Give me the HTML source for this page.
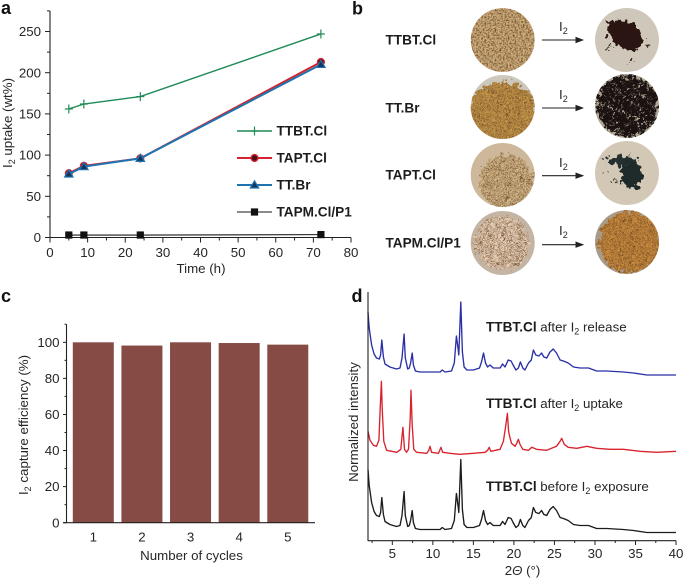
<!DOCTYPE html>
<html lang="en">
<head>
<meta charset="utf-8">
<title>Iodine uptake figure</title>
<style>
html,body{margin:0;padding:0;background:#fff;width:685px;height:579px;overflow:hidden}
svg{display:block;filter:blur(.3px)}
text{font-family:"Liberation Sans",Arial,sans-serif;fill:#262626;font-size:13.3px}
.b{font-weight:700;fill:#1c1c1c;font-size:13.6px}
.panel{font-size:18px;font-weight:700;fill:#111}
</style>
</head>
<body>
<svg id="fig" xmlns="http://www.w3.org/2000/svg" width="685" height="579" viewBox="0 0 685 579">
<defs>
<filter id="grain" x="0" y="0" width="100%" height="100%" color-interpolation-filters="sRGB">
<feTurbulence type="fractalNoise" baseFrequency=".6" numOctaves="2" seed="4" result="n"/>
<feColorMatrix in="n" type="matrix" values="0 0 0 0 .42 0 0 0 0 .28 0 0 0 0 .14 2.6 0 0 0 -1.05" result="d"/>
<feComposite in="d" in2="SourceAlpha" operator="in" result="c"/>
<feMerge><feMergeNode in="SourceGraphic"/><feMergeNode in="c"/></feMerge>
</filter>
<filter id="rough" x="-20%" y="-20%" width="140%" height="140%" color-interpolation-filters="sRGB">
<feTurbulence type="fractalNoise" baseFrequency=".22" numOctaves="2" seed="9" result="n"/>
<feDisplacementMap in="SourceGraphic" in2="n" scale="13" xChannelSelector="R" yChannelSelector="G"/>
</filter>
<filter id="lightspeck" x="0" y="0" width="100%" height="100%" color-interpolation-filters="sRGB">
<feTurbulence type="fractalNoise" baseFrequency=".3" numOctaves="2" seed="7" result="n"/>
<feColorMatrix in="n" type="matrix" values="0 0 0 0 .72 0 0 0 0 .68 0 0 0 0 .6 7 0 0 0 -4.1" result="d"/>
<feComposite in="d" in2="SourceAlpha" operator="in" result="c"/>
<feMerge><feMergeNode in="SourceGraphic"/><feMergeNode in="c"/></feMerge>
</filter>
<clipPath id="c1l"><circle cx="502.7" cy="40" r="32"/></clipPath>
<clipPath id="c1r"><circle cx="627" cy="40" r="32"/></clipPath>
<clipPath id="c2l"><circle cx="502.7" cy="107" r="32"/></clipPath>
<clipPath id="c2r"><circle cx="627" cy="106" r="32"/></clipPath>
<clipPath id="c3l"><circle cx="502.7" cy="175" r="32"/></clipPath>
<clipPath id="c3r"><circle cx="627" cy="173" r="32"/></clipPath>
<clipPath id="c4l"><circle cx="502.7" cy="243" r="32"/></clipPath>
<clipPath id="c4r"><circle cx="627" cy="242" r="32"/></clipPath>
<marker id="ah" markerWidth="8" markerHeight="6" refX="7" refY="3" orient="auto"><path d="M0 0L8 3L0 6z" fill="#222"/></marker>
</defs>

<text class="panel" x="1" y="14">a</text>
<text class="panel" x="352" y="14.5">b</text>
<text class="panel" x="1" y="302">c</text>
<text class="panel" x="351.5" y="302">d</text>

<!-- panel a -->
<g id="chartA"></g>
<text transform="translate(12,123) rotate(-90)" text-anchor="middle">I<tspan font-size="9" dy="3">2</tspan><tspan dy="-3"> uptake (wt%)</tspan></text>
<text x="201" y="273" text-anchor="middle">Time (h)</text>

<!-- panel b -->
<g>
<text class="b" x="385.5" y="44.5">TTBT.Cl</text>
<text class="b" x="385.5" y="112.5">TT.Br</text>
<text class="b" x="385.5" y="179.5">TAPT.Cl</text>
<text class="b" x="385.5" y="247.5">TAPM.Cl/P1</text>

<g clip-path="url(#c1l)"><g filter="url(#grain)"><circle cx="502.7" cy="40" r="32" fill="#cdae7e"/></g></g>
<g clip-path="url(#c1r)"><rect x="590" y="5" width="76" height="70" fill="#cfc7b9"/><g filter="url(#rough)"><ellipse cx="625" cy="35" rx="20" ry="13" transform="rotate(35 625 35)" fill="#2a1512"/><circle cx="609" cy="47" r="2" fill="#3a2a22"/><circle cx="648" cy="45" r="2" fill="#3a2a22"/><circle cx="610" cy="24" r="2.5" fill="#2a1512"/><circle cx="631" cy="60" r="2" fill="#3a2a22"/></g></g>

<g clip-path="url(#c2l)"><rect x="465" y="70" width="76" height="70" fill="#cdc8be"/><g filter="url(#rough)"><g filter="url(#grain)"><ellipse cx="503" cy="112" rx="34" ry="30" fill="#c4964a"/></g></g></g>
<g clip-path="url(#c2r)"><rect x="590" y="70" width="76" height="70" fill="#b0a696"/><g filter="url(#rough)"><g filter="url(#lightspeck)"><circle cx="627" cy="106" r="31" fill="#1a1210"/></g></g></g>

<g clip-path="url(#c3l)"><rect x="465" y="140" width="76" height="70" fill="#cdb89b"/><g filter="url(#rough)"><g filter="url(#grain)"><ellipse cx="506" cy="182" rx="27" ry="28" fill="#d2b78a"/></g></g></g>
<g clip-path="url(#c3r)"><rect x="590" y="140" width="76" height="70" fill="#d3c8b5"/><g filter="url(#rough)"><ellipse cx="622" cy="161" rx="15" ry="5" fill="#23302f"/><ellipse cx="632" cy="175" rx="11" ry="14" fill="#1f2b2b"/><circle cx="607" cy="172" r="2" fill="#4a4a42"/><circle cx="615" cy="181" r="1.6" fill="#4a4a42"/><circle cx="602" cy="160" r="1.5" fill="#4a4a42"/></g></g>

<g clip-path="url(#c4l)"><rect x="465" y="208" width="76" height="70" fill="#c4b4a3"/><g filter="url(#rough)"><g filter="url(#grain)"><ellipse cx="502" cy="243" rx="27" ry="27" fill="#e6d0ba"/></g></g></g>
<g clip-path="url(#c4r)"><rect x="590" y="208" width="76" height="70" fill="#a99b8a"/><g filter="url(#rough)"><g filter="url(#grain)"><ellipse cx="630" cy="242" rx="31" ry="31" fill="#c98a3e"/></g></g></g>

<g fill="none" stroke="#222" stroke-width="1.1">
<line x1="542" y1="40" x2="583" y2="40" marker-end="url(#ah)"/>
<line x1="542" y1="108" x2="583" y2="108" marker-end="url(#ah)"/>
<line x1="542" y1="175.7" x2="583" y2="175.7" marker-end="url(#ah)"/>
<line x1="542" y1="244.7" x2="583" y2="244.7" marker-end="url(#ah)"/>
</g>
<text x="559" y="31">I<tspan font-size="9" dy="3">2</tspan></text>
<text x="559" y="99">I<tspan font-size="9" dy="3">2</tspan></text>
<text x="559" y="167">I<tspan font-size="9" dy="3">2</tspan></text>
<text x="559" y="235">I<tspan font-size="9" dy="3">2</tspan></text>
</g>

<!-- panel c -->
<g id="chartC"></g>
<text transform="translate(28,425) rotate(-90)" text-anchor="middle">I<tspan font-size="9" dy="3">2</tspan><tspan dy="-3"> capture efficiency (%)</tspan></text>
<text x="191.5" y="560" text-anchor="middle">Number of cycles</text>

<!-- panel d -->
<g id="chartD"></g>
<text transform="translate(358,422) rotate(-90)" text-anchor="middle">Normalized intensity</text>
<text x="522.5" y="575" text-anchor="middle">2<tspan font-style="italic">Θ</tspan> (°)</text>
<text x="486" y="331.5"><tspan class="b">TTBT.Cl</tspan> after I<tspan font-size="9" dy="3">2</tspan><tspan dy="-3"> release</tspan></text>
<text x="486" y="408"><tspan class="b">TTBT.Cl</tspan> after I<tspan font-size="9" dy="3">2</tspan><tspan dy="-3"> uptake</tspan></text>
<text x="486" y="491"><tspan class="b">TTBT.Cl</tspan> before I<tspan font-size="9" dy="3">2</tspan><tspan dy="-3"> exposure</tspan></text>
</svg>

<script>
// Panel a data
const uptakeHours = [5, 9, 24, 72];
const uptakeTTBT = [156, 162, 171, 247];
const uptakeTAPT = [78, 87, 96, 213];
const uptakeTTBr = [77, 86, 96, 210];
const uptakeTAPM = [3, 3, 3, 3.5];
const uptakeXTicks = [0, 10, 20, 30, 40, 50, 60, 70, 80];
const uptakeYTicks = [0, 50, 100, 150, 200, 250];

// Panel c data
const cycleLabels = ['1', '2', '3', '4', '5'];
const cycleEfficiency = [100, 98.2, 100, 99.6, 98.7];
const efficiencyTicks = [0, 20, 40, 60, 80, 100];

// Panel d data
const releaseAngles = [2,2.15,2.45,2.75,3.05,3.4,3.55,3.7,3.9,4.1,4.7,5.5,5.95,6.2,6.45,6.6,6.9,7.1,7.25,7.45,7.6,7.85,8.4,9.65,10.9,11.15,11.5,12.3,12.65,12.9,13.1,13.2,13.45,13.65,13.85,14.2,15,15.75,16,16.25,16.5,16.75,17.05,17.45,18.3,18.6,18.9,19.3,19.65,19.9,20.25,20.55,20.8,21.1,21.35,21.8,22.15,22.4,22.7,23.1,23.4,23.7,24.05,24.45,24.85,25.25,25.7,26.1,26.7,27.35,28.15,29.2,30.2,31.45,33.5,34.75,36.4,38,40];
const releaseIntensity = [66,50,33,24,20,19,23,38,21,14,11,9,10,20,44,20,9,10,15,25,13,7,6,6,6,8,6,7,15,42,30,23,76,26,11,8,8,10,16,25,15,11,13,10,10,14,11,18,17,13,8,10,16,10,8,15,18,28,23,22,25,21,20,26,29,25,18,17,15,11,10,10,7,7,6,5,3,3,3];
const beforeIntensity = [66,50,33,24,20,19,23,38,21,14,11,9,10,20,44,20,9,10,15,25,13,7,6,6,6,8,6,7,15,42,30,23,76,26,11,8,8,10,16,25,15,11,13,10,10,14,11,18,17,13,8,10,16,10,8,15,18,28,23,22,25,21,20,26,29,25,18,17,15,11,10,10,7,7,6,5,3,3,3];
const uptakeAngles = [2,2.25,2.65,3.05,3.35,3.5,3.65,3.75,3.95,4.3,5.55,6.05,6.3,6.5,6.75,7,7.2,7.3,7.45,7.65,8,9.25,9.5,9.65,9.85,10.7,11,11.2,12.1,13.35,15,16.45,16.75,16.95,17.15,18.3,18.7,19,19.2,19.35,19.5,19.7,20.15,20.35,20.55,20.75,21.1,21.8,22.2,22.8,24.05,25.25,25.7,25.9,26.2,26.7,27.75,29,30.2,31.85,33.5,35.55,37.6,40];
const uptakeIntensity = [27,18,13,12,18,50,77,50,17,8,6,9,31,9,6,9,40,68,33,9,6,5,8,12,6,5,11,6,5,4,5,6,8,11,7,9,17,33,45,27,21,15,12,15,19,14,9,8,11,9,8,12,17,20,14,11,10,12,10,9,9,7,6,7];
const xrdTicks = [5, 10, 15, 20, 25, 30, 35, 40];

const NS = 'http://www.w3.org/2000/svg';
function mk(parent, tag, attrs, txt) {
  const el = document.createElementNS(NS, tag);
  for (const k in attrs) el.setAttribute(k, attrs[k]);
  if (txt !== undefined) el.textContent = txt;
  parent.appendChild(el);
  return el;
}
function line(parent, x1, y1, x2, y2, col, w) {
  return mk(parent, 'line', { x1: x1, y1: y1, x2: x2, y2: y2, stroke: col, 'stroke-width': w });
}

/* ---------- panel a ---------- */
const gA = document.getElementById('chartA');
const ax = v => 50 + v * (351 - 50) / 80;
const ay = v => 237.5 - v * (237.5 - 31.5) / 250;
const axA = mk(gA, 'g', {});


line(axA, ax(0), ay(0), ax(80), ay(0), '#222', 1.1);
line(axA, ax(0), ay(0), ax(0), ay(275), '#222', 1.1);
for (let i = 0; i < uptakeXTicks.length; i++) {
  const t = uptakeXTicks[i];
  line(axA, ax(t), ay(0), ax(t), ay(0) + 5, '#222', 1);
  if (i < uptakeXTicks.length - 1) {
    const m = (t + uptakeXTicks[i + 1]) / 2;
    line(axA, ax(m), ay(0), ax(m), ay(0) + 3, '#222', 1);
  }
  const lb = mk(axA, 'text', { x: ax(t), y: 257, 'text-anchor': 'middle' }, t);
  
  
}
for (let i = 0; i < uptakeYTicks.length; i++) {
  const t = uptakeYTicks[i];
  line(axA, ax(0) - 5, ay(t), ax(0), ay(t), '#222', 1);
  line(axA, ax(0) - 3, ay(t + 25), ax(0), ay(t + 25), '#222', 1);
  const lb = mk(axA, 'text', { x: 41, y: ay(t) + 4.6, 'text-anchor': 'end' }, t);
  
  
}
function marker(parent, kind, cx, cy, col) {
  if (kind === 'plus') {
    line(parent, cx - 4, cy, cx + 4, cy, col, 1.2);
    line(parent, cx, cy - 4.5, cx, cy + 4.5, col, 1.2);
  } else if (kind === 'circle') {
    mk(parent, 'circle', { cx: cx, cy: cy, r: 3.4, fill: '#4a0f16', stroke: col, 'stroke-width': 1.4 });
  } else if (kind === 'tri') {
    mk(parent, 'path', { d: `M${cx} ${cy - 4.2}L${cx + 4.2} ${cy + 3}L${cx - 4.2} ${cy + 3}Z`, fill: '#12365e', stroke: col, 'stroke-width': 1.2 });
  } else {
    mk(parent, 'rect', { x: cx - 3.6, y: cy - 3.6, width: 7.2, height: 7.2, fill: '#111' });
  }
}
function drawUptake(name, vals, col, w, kind, legendY, label) {
  const g = mk(gA, 'g', {});
  
  
  mk(g, 'polyline', {
    points: uptakeHours.map((h, i) => ax(h) + ',' + ay(vals[i])).join(' '),
    fill: 'none', stroke: col, 'stroke-width': w
  });
  uptakeHours.forEach((h, i) => marker(g, kind, ax(h), ay(vals[i]), col));
  const lg = mk(gA, 'g', {});
  
  
  line(lg, 237, legendY, 272, legendY, col, w);
  marker(lg, kind, 254.5, legendY, col);
  mk(lg, 'text', { x: 276.5, y: legendY + 4.6, class: 'b' }, label);
}
drawUptake('series-tapm', uptakeTAPM, '#1a1a1a', 1.1, 'square', 212, 'TAPM.Cl/P1');
drawUptake('series-ttbt', uptakeTTBT, '#1f8a57', 1.4, 'plus', 131, 'TTBT.Cl');
drawUptake('series-tapt', uptakeTAPT, '#d5232f', 2, 'circle', 158, 'TAPT.Cl');
drawUptake('series-ttbr', uptakeTTBr, '#1f74b0', 2, 'tri', 185, 'TT.Br');

/* ---------- panel c ---------- */
const gC = document.getElementById('chartC');
const cy = v => 522.7 - v * (522.7 - 342.3) / 100;
const cx = i => 93.3 + i * 48.62;
cycleEfficiency.forEach((v, i) => {
  const b = mk(gC, 'rect', { x: cx(i) - 20.5, y: cy(v), width: 41, height: cy(0) - cy(v), fill: '#864b45' });
  
  
  const lb = mk(gC, 'text', { x: cx(i), y: 541.5, 'text-anchor': 'middle' }, cycleLabels[i]);
  
  
});
const axC = mk(gC, 'g', {});


line(axC, 63, cy(0), 315, cy(0), '#222', 1.1);
line(axC, 66.5, cy(0), 66.5, cy(110), '#222', 1.1);
efficiencyTicks.forEach(t => {
  line(axC, 63, cy(t), 66.5, cy(t), '#222', 1);
  line(axC, 64.5, cy(t + 10), 66.5, cy(t + 10), '#222', 1);
  const lb = mk(axC, 'text', { x: 59.5, y: cy(t) + 4.6, 'text-anchor': 'end' }, t);
  
  
});

/* ---------- panel d ---------- */
const gD = document.getElementById('chartD');
const dx = a => 368 + (a - 2) * 8.106;
function drawXrd(name, angles, vals, base, col) {
  const p = mk(gD, 'polyline', {
    points: angles.map((a, i) => dx(a).toFixed(1) + ',' + (base - vals[i]).toFixed(1)).join(' '),
    fill: 'none', stroke: col, 'stroke-width': 1.35, 'stroke-linejoin': 'round'
  });
  
  
}
drawXrd('xrd-series-release', releaseAngles, releaseIntensity, 378, '#2a2fa6');
drawXrd('xrd-series-uptake', uptakeAngles, uptakeIntensity, 458.3, '#d8242f');
drawXrd('xrd-series-before', releaseAngles, beforeIntensity, 535.5, '#1c1c1c');
const axD = mk(gD, 'g', {});


line(axD, 368, 292, 368, 541, '#222', 1.1);
line(axD, 368, 540.7, dx(40), 540.7, '#222', 1.1);
xrdTicks.forEach(t => {
  line(axD, dx(t), 540.7, dx(t), 545, '#222', 1);
  line(axD, dx(t - 2.5), 540.7, dx(t - 2.5), 543, '#222', 1);
  const lb = mk(axD, 'text', { x: dx(t), y: 558, 'text-anchor': 'middle' }, t);
  
  
});
</script>
</body>
</html>
